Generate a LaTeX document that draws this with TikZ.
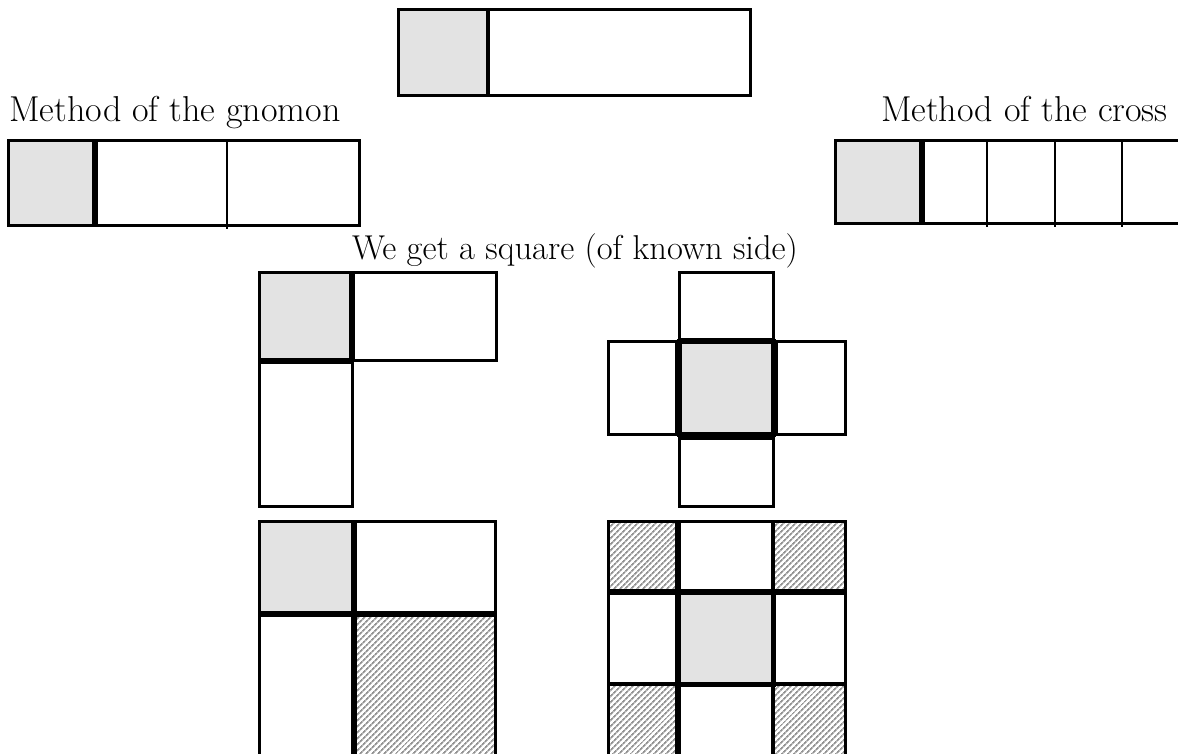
\documentclass[tikz,border=0pt]{standalone}
\usetikzlibrary{patterns.meta}
\begin{document}
\begin{tikzpicture}[x=1pt,y=-1pt,
  piece/.style={draw=black,line width=3pt},
  sq/.style={piece,fill=gray!22},
  hatch/.style={piece,pattern={Lines[angle=45,distance=4pt,line width=1.9pt]},pattern color=gray!85},
  thickline/.style={line width=5.5pt},
  midline/.style={line width=4pt},
  thinline/.style={line width=2.5pt},
  lbl/.style={inner sep=0pt,font=\fontsize{34.5}{40}\selectfont},
  biglbl/.style={inner sep=0pt,font=\fontsize{36}{42}\selectfont}]
\useasboundingbox (0,0) rectangle (1178,753);
% top rectangle
\draw[sq] (398,9) rectangle (488,95);
\draw[piece] (488,9) rectangle (750,95);
\draw[midline] (488,9) -- (488,95);
% labels
\node[biglbl,anchor=base west] (tg) at (9,121) {Method of the gnomon};
\node[biglbl,anchor=base east] (tc) at (1168,121) {Method of the cross};
\node[lbl,anchor=base] (ts) at (575,259) {We get a square (of known side)};
% gnomon row
\draw[sq] (8,140) rectangle (95,225);
\draw[piece] (95,140) rectangle (359,225);
\draw[thickline] (95,140) -- (95,225);
\draw[thinline] (227,140) -- (227,229);
% cross row
\draw[sq] (835,140) rectangle (922,223);
\draw[piece] (922,140) -- (1180,140);
\draw[piece] (922,223) -- (1180,223);
\draw[thickline] (922,140) -- (922,223);
\foreach \x in {987,1055,1122} \draw[thinline] (\x,140) -- (\x,227);
% gnomon arrangement
\draw[sq] (259,272) rectangle (352,360);
\draw[piece] (352,272) rectangle (496,360);
\draw[piece] (259,360) rectangle (352,506);
\draw[thickline] (352,272) -- (352,362);
\draw[thickline] (259,361) -- (354,361);
% cross arrangement
\draw[piece] (679,272) rectangle (773,339);
\draw[piece] (608,341) rectangle (676,434);
\draw[piece] (776,341) rectangle (845,434);
\draw[piece] (679,438) rectangle (773,506);
\draw[sq,line width=5pt] (679,341) rectangle (773,434);
% completed gnomon
\draw[sq] (259,521) rectangle (354,614);
\draw[piece] (354,521) rectangle (495,614);
\draw[piece] (259,614) rectangle (354,760);
\draw[hatch] (354,614) rectangle (495,760);
\draw[thickline] (354,521) -- (354,760);
\draw[thickline] (259,614) -- (495,614);
% completed cross
\draw[hatch] (608,521) rectangle (678,592);
\draw[piece] (678,521) rectangle (773,592);
\draw[hatch] (773,521) rectangle (845,592);
\draw[piece] (608,592) rectangle (678,684);
\draw[sq] (678,592) rectangle (773,684);
\draw[piece] (773,592) rectangle (845,684);
\draw[hatch] (608,684) rectangle (678,760);
\draw[piece] (678,684) rectangle (773,760);
\draw[hatch] (773,684) rectangle (845,760);
\draw[thickline] (678,521) -- (678,760);
\draw[thickline] (608,592) -- (845,592);
\draw[midline] (773,521) -- (773,760);
\draw[midline] (608,684) -- (845,684);
\draw[line width=5pt] (678,592) rectangle (773,684);
\end{tikzpicture}
\end{document}
